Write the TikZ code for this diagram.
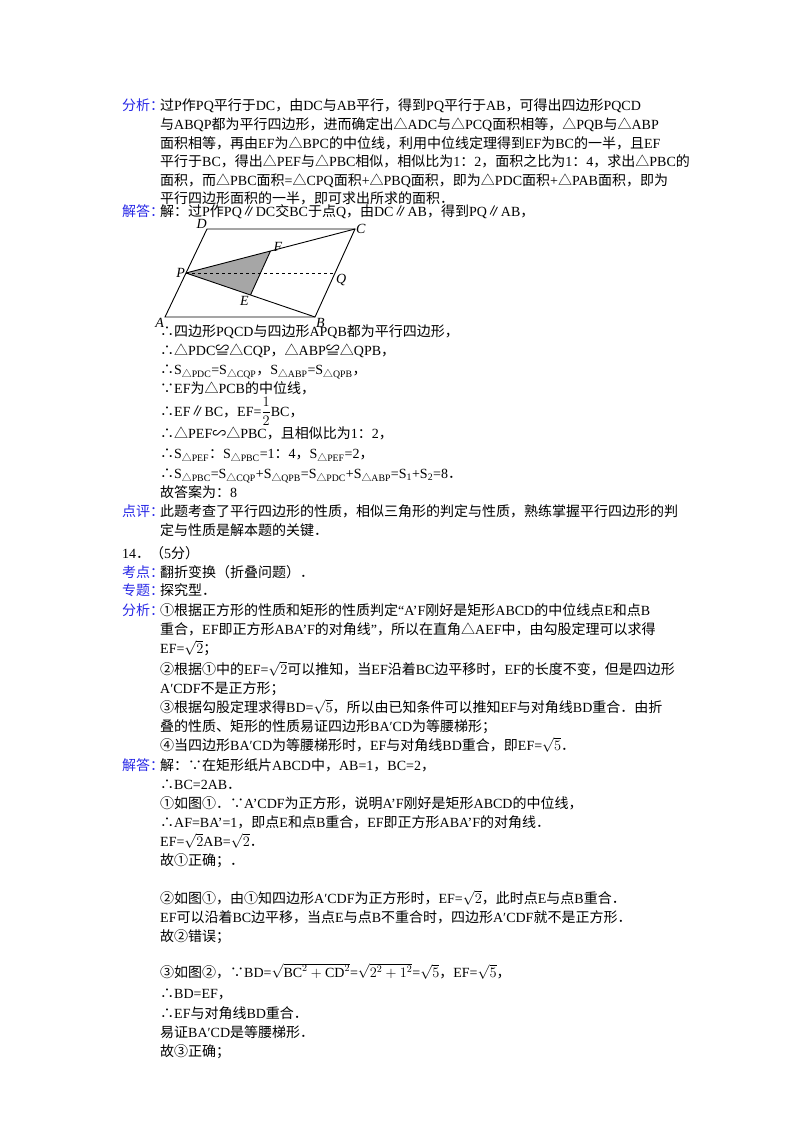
\documentclass[tikz,border=0pt]{standalone}
\usepackage{amsmath}
\usepackage{fontspec}
\usetikzlibrary{calc}
\setmainfont{Liberation Serif}
\newfontfamily\cjkfont{Noto Sans CJK SC}
\XeTeXinterchartokenstate=1
\newXeTeXintercharclass\cjkclass
\count255="4E00
\loop\XeTeXcharclass\count255=\cjkclass\ifnum\count255<"9FFF\advance\count255 1 \repeat
\count255="3000
\loop\XeTeXcharclass\count255=\cjkclass\ifnum\count255<"303F\advance\count255 1 \repeat
\count255="FF00
\loop\XeTeXcharclass\count255=\cjkclass\ifnum\count255<"FF60\advance\count255 1 \repeat
\count255="2200
\loop\XeTeXcharclass\count255=\cjkclass\ifnum\count255<"22FF\advance\count255 1 \repeat
\count255="2460
\loop\XeTeXcharclass\count255=\cjkclass\ifnum\count255<"24FF\advance\count255 1 \repeat
\count255="25A0
\loop\XeTeXcharclass\count255=\cjkclass\ifnum\count255<"25FF\advance\count255 1 \repeat
\XeTeXinterchartoks 0 \cjkclass={\cjkfont}
\XeTeXinterchartoks 4095 \cjkclass={\cjkfont}
\XeTeXinterchartoks \cjkclass 0={\normalfont}
\XeTeXinterchartoks \cjkclass 4095={\normalfont}
\definecolor{lbl}{RGB}{40,40,230}
\newcommand{\Ss}[1]{S\textsubscript{#1}}
\begin{document}
\begin{tikzpicture}[x=1pt,y=-1pt,
  ln/.style={anchor=base west,inner sep=0,font=\fontsize{14}{16}\selectfont},
  lb/.style={ln,text=lbl},
  pt/.style={font=\fontsize{14}{16}\selectfont\itshape,inner sep=1pt}]
\useasboundingbox (0,0) rectangle (800,1132);
% ---------- problem 13
\node[lb] (a0) at (122,110) {分析：};
\node[ln] (a1) at (160,110) {过P作PQ平行于DC，由DC与AB平行，得到PQ平行于AB，可得出四边形PQCD};
\node[ln] (a2) at (160,129) {与ABQP都为平行四边形，进而确定出△ADC与△PCQ面积相等，△PQB与△ABP};
\node[ln] (a3) at (160,148) {面积相等，再由EF为△BPC的中位线，利用中位线定理得到EF为BC的一半，且EF};
\node[ln] (a4) at (160,166) {平行于BC，得出△PEF与△PBC相似，相似比为1：2，面积之比为1：4，求出△PBC的};
\node[ln] (a5) at (160,185) {面积，而△PBC面积=△CPQ面积+△PBQ面积，即为△PDC面积+△PAB面积，即为};
\node[ln] (a6) at (160,203) {平行四边形面积的一半，即可求出所求的面积．};
\node[lb] (b0) at (122,216) {解答：};
\node[ln] (b1) at (160,216) {解：过P作PQ∥DC交BC于点Q，由DC∥AB，得到PQ∥AB，};
% figure
\coordinate (A) at (165,317);
\coordinate (B) at (315,317);
\coordinate (C) at (355,229);
\coordinate (D) at (207,229);
\coordinate (P) at ($(A)!0.5!(D)$);
\coordinate (Q) at ($(B)!0.5!(C)$);
\coordinate (F) at ($(P)!0.5!(C)$);
\coordinate (E) at ($(P)!0.5!(B)$);
\fill[gray!70] (P) -- (F) -- (E) -- cycle;
\draw[line width=0.9pt] (A) -- (B) -- (C) -- (D) -- cycle;
\draw[line width=0.9pt] (P) -- (C) (P) -- (B) (E) -- (F);
\draw[dashed,line width=0.8pt] (P) -- (Q);
\node[pt,anchor=south east,inner sep=0] (lD) at (D) {D};
\node[pt,anchor=west] (lC) at (C) {C};
\node[pt,anchor=east] (lP) at (P) {P};
\node[pt,anchor=north west] (lQ) at (Q) {Q};
\node[pt,anchor=south west] (lF) at ($(F)+(2,2)$) {F};
\node[pt,anchor=north] (lE) at ($(E)+(-6,0)$) {E};
\node[pt,anchor=north east] (lA) at (A) {A};
\node[pt,anchor=north west] (lB) at (B) {B};
\node[ln] (b2) at (160,336) {∴四边形PQCD与四边形APQB都为平行四边形，};
\node[ln] (b3) at (160,355) {∴△PDC≌△CQP，△ABP≌△QPB，};
\node[ln] (b4) at (160,374) {∴\Ss{△PDC}=\Ss{△CQP}，\Ss{△ABP}=\Ss{△QPB}，};
\node[ln] (b5) at (160,393) {∵EF为△PCB的中位线，};
\node[ln] (b6) at (160,416) {∴EF∥BC，EF=$\dfrac{1}{2}$BC，};
\node[ln] (b7) at (160,438) {∴△PEF∽△PBC，且相似比为1：2，};
\node[ln] (b8) at (160,458) {∴\Ss{△PEF}：\Ss{△PBC}=1：4，\Ss{△PEF}=2，};
\node[ln] (b9) at (160,478) {∴\Ss{△PBC}=\Ss{△CQP}+\Ss{△QPB}=\Ss{△PDC}+\Ss{△ABP}=\Ss{1}+\Ss{2}=8．};
\node[ln] (b10) at (160,497) {故答案为：8};
\node[lb] (c0) at (122,516) {点评：};
\node[ln] (c1) at (160,516) {此题考查了平行四边形的性质，相似三角形的判定与性质，熟练掌握平行四边形的判};
\node[ln] (c2) at (160,535) {定与性质是解本题的关键．};
% ---------- problem 14
\node[ln] (d0) at (122,558) {14．（5分）};
\node[lb] (e0) at (122,577) {考点：};
\node[ln] (e1) at (160,577) {翻折变换（折叠问题）．};
\node[lb] (f0) at (122,595) {专题：};
\node[ln] (f1) at (160,595) {探究型．};
\node[lb] (g0) at (122,615) {分析：};
\node[ln] (g1) at (160,615) {①根据正方形的性质和矩形的性质判定“A'F刚好是矩形ABCD的中位线点E和点B};
\node[ln] (g2) at (160,634) {重合，EF即正方形ABA'F的对角线”，所以在直角△AEF中，由勾股定理可以求得};
\node[ln] (g3) at (160,653) {EF=$\sqrt{2}$；};
\node[ln] (g4) at (160,674) {②根据①中的EF=$\sqrt{2}$可以推知，当EF沿着BC边平移时，EF的长度不变，但是四边形};
\node[ln] (g5) at (160,693) {A′CDF不是正方形；};
\node[ln] (g6) at (160,712) {③根据勾股定理求得BD=$\sqrt{5}$，所以由已知条件可以推知EF与对角线BD重合．由折};
\node[ln] (g7) at (160,731) {叠的性质、矩形的性质易证四边形BA′CD为等腰梯形；};
\node[ln] (g8) at (160,750) {④当四边形BA′CD为等腰梯形时，EF与对角线BD重合，即EF=$\sqrt{5}$．};
\node[lb] (h0) at (122,770) {解答：};
\node[ln] (h1) at (160,770) {解：∵在矩形纸片ABCD中，AB=1，BC=2，};
\node[ln] (h2) at (160,789) {∴BC=2AB．};
\node[ln] (h3) at (160,808) {①如图①．∵A'CDF为正方形，说明A'F刚好是矩形ABCD的中位线，};
\node[ln] (h4) at (160,827) {∴AF=BA'=1，即点E和点B重合，EF即正方形ABA'F的对角线．};
\node[ln] (h5) at (160,846) {EF=$\sqrt{2}$AB=$\sqrt{2}$．};
\node[ln] (h6) at (160,865) {故①正确；．};
\node[ln] (h7) at (160,903) {②如图①，由①知四边形A′CDF为正方形时，EF=$\sqrt{2}$，此时点E与点B重合．};
\node[ln] (h8) at (160,922) {EF可以沿着BC边平移，当点E与点B不重合时，四边形A′CDF就不是正方形．};
\node[ln] (h9) at (160,941) {故②错误；};
\node[ln] (h10) at (160,977) {③如图②，∵BD=$\sqrt{\mathrm{BC}^2+\mathrm{CD}^2}$=$\sqrt{2^2+1^2}$=$\sqrt{5}$，EF=$\sqrt{5}$，};
\node[ln] (h11) at (160,998) {∴BD=EF，};
\node[ln] (h12) at (160,1018) {∴EF与对角线BD重合．};
\node[ln] (h13) at (160,1037) {易证BA′CD是等腰梯形．};
\node[ln] (h14) at (160,1056) {故③正确；};
\end{tikzpicture}
\end{document}
